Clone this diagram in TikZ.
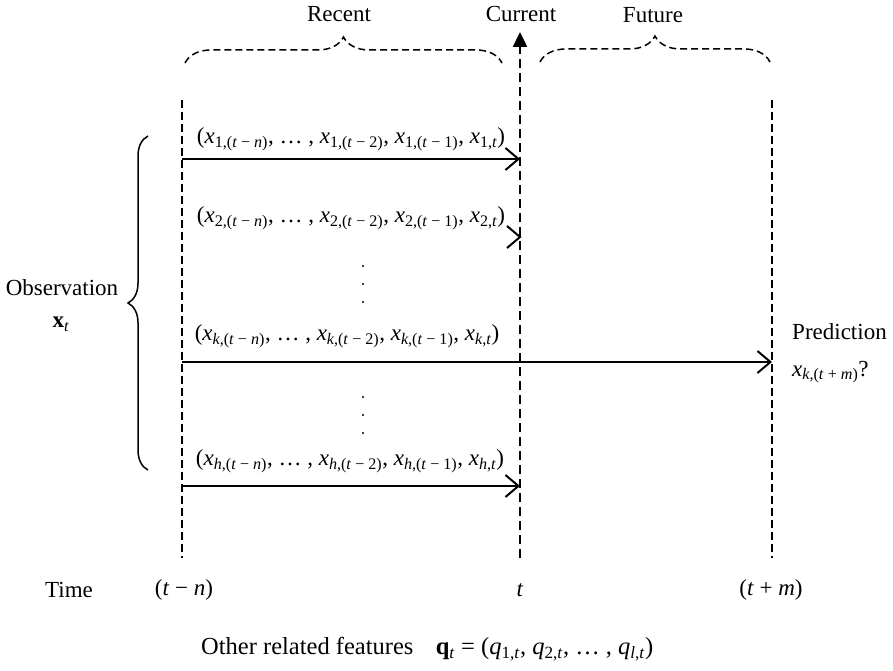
\documentclass[tikz,border=0pt]{standalone}
\usepackage{fontspec}
\setmainfont{Liberation Serif}
\usepackage{amsmath}
\usetikzlibrary{arrows.meta,decorations.pathreplacing}
\newcommand\xv[1]{\textit{x}\textsubscript{#1}}
\newcommand\qv[1]{\textit{q}\textsubscript{#1}}
\newcommand\ti{\textit{t}}
\tikzset{
  txt/.style={inner sep=0pt, font=\fontsize{23}{27}\selectfont},
  vline/.style={line width=1.3pt, dash pattern=on 8pt off 4pt},
  midline/.style={line width=2.4pt, dash pattern=on 9pt off 5pt, -{Triangle[length=15pt,width=14pt]}},
  rowarrow/.style={line width=2pt, -{Straight Barb[length=13pt,width=22pt]}},
  topbrace/.style={line width=1.5pt, dash pattern=on 7pt off 4pt, decorate, decoration={brace,amplitude=26pt}},
  sidebrace/.style={line width=1.5pt, decorate, decoration={brace,amplitude=20pt}},
  dotmark/.style={circle, fill=black, inner sep=0pt, minimum size=2.4pt}
}
\begin{document}
\begin{tikzpicture}[x=1pt,y=-1pt]
\useasboundingbox (0,0) rectangle (893,671);
% vertical time lines
\coordinate (L0) at (182,100); \coordinate (L1) at (182,558);
\coordinate (M0) at (520,32);  \coordinate (M1) at (520,558);
\coordinate (R0) at (772,100); \coordinate (R1) at (772,558);
\draw[vline] (L0) -- (L1);
\draw[vline] (R0) -- (R1);
\draw[midline] (M1) -- (M0);
% top braces and labels
\coordinate (b1s) at (185,63); \coordinate (b1e) at (502,63);
\coordinate (b2s) at (540,62); \coordinate (b2e) at (770,62);
\draw[topbrace] (b1s) -- (b1e);
\draw[topbrace] (b2s) -- (b2e);
\node[txt] (recent) at (339,14) {Recent};
\node[txt] (current) at (521,14) {Current};
\node[txt] (future) at (653,15) {Future};
% rows
\coordinate (a1s) at (182,159); \coordinate (a1e) at (520,159);
\coordinate (aks) at (182,362); \coordinate (ake) at (772,362);
\coordinate (ahs) at (182,486); \coordinate (ahe) at (520,486);
\draw[rowarrow] (a1s) -- (a1e);
\draw[rowarrow] (aks) -- (ake);
\draw[rowarrow] (ahs) -- (ahe);
\draw[line width=2pt] (507,226) -- (520,237) -- (507,248);
\node[txt] (lab1) at (351,139) {(\xv{1,(\ti\ − \textit{n})}, … , \xv{1,(\ti\ − 2)}, \xv{1,(\ti\ − 1)}, \xv{1,\ti})};
\node[txt] (lab2) at (351,218) {(\xv{2,(\ti\ − \textit{n})}, … , \xv{2,(\ti\ − 2)}, \xv{2,(\ti\ − 1)}, \xv{2,\ti})};
\node[txt] (labk) at (347,336) {(\xv{\textit{k},(\ti\ − \textit{n})}, … , \xv{\textit{k},(\ti\ − 2)}, \xv{\textit{k},(\ti\ − 1)}, \xv{\textit{k},\ti})};
\node[txt] (labh) at (350,461) {(\xv{\textit{h},(\ti\ − \textit{n})}, … , \xv{\textit{h},(\ti\ − 2)}, \xv{\textit{h},(\ti\ − 1)}, \xv{\textit{h},\ti})};
% vertical dots
\foreach \yy [count=\i] in {266,284,302} \node[dotmark] (du\i) at (363,\yy) {};
\foreach \yy [count=\i] in {397,415,433} \node[dotmark] (dl\i) at (363,\yy) {};
% observation brace
\coordinate (obs1) at (148,470); \coordinate (obs2) at (148,136);
\draw[sidebrace] (obs1) -- (obs2);
\node[txt] (obs) at (62,288) {Observation};
\node[txt] (xt) at (61,324) {\textbf{x}\textsubscript{\ti}};
% prediction
\node[txt, anchor=west] (pred) at (792,332) {Prediction};
\node[txt, anchor=west] (predx) at (792,372) {\xv{\textit{k},(\ti\ + \textit{m})}?};
% time axis
\node[txt] (time) at (69,590) {Time};
\node[txt] (tn) at (184,590) {(\ti\ − \textit{n})};
\node[txt] (tt) at (520,590) {\ti};
\node[txt] (tm) at (771,590) {(\ti\ + \textit{m})};
% other features
\node[txt, anchor=west, font=\fontsize{24.5}{28}\selectfont] (other) at (201,649) {Other related features\enspace\, \textbf{q}\textsubscript{\ti} = (\qv{1,\ti}, \qv{2,\ti}, … , \qv{\textit{l},\ti})};
\end{tikzpicture}
\end{document}
